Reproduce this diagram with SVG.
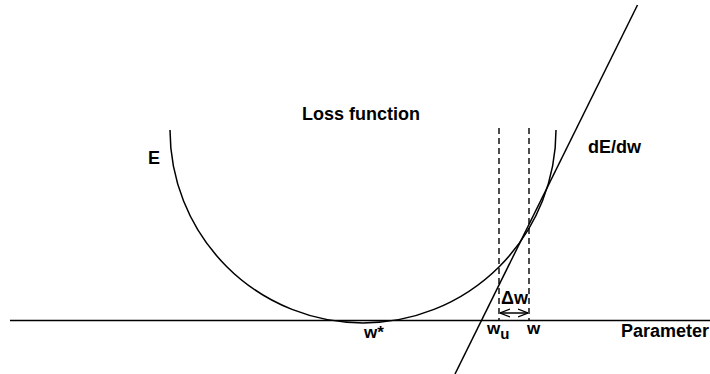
<svg xmlns="http://www.w3.org/2000/svg" width="710" height="374" viewBox="0 0 710 374">
<defs>
<style>
.t{font-family:"Liberation Sans",Arial,sans-serif;font-weight:bold;font-size:18px;fill:#000}
.s{font-size:17px}
.l{stroke:#000;stroke-width:1.5;fill:none}
.d{stroke:#000;stroke-width:1.4;fill:none;stroke-dasharray:6,4}
</style>
<marker id="ah" viewBox="0 0 10 10" refX="10" refY="5" markerWidth="10" markerHeight="10" markerUnits="userSpaceOnUse" orient="auto-start-reverse">
<path d="M0,1 L10,5 L0,9" fill="none" stroke="#000" stroke-width="1.3"/>
</marker>
</defs>
<rect width="710" height="374" fill="#fff"/>
<g id="axis"><line class="l" x1="10" y1="320.5" x2="710" y2="320.5"/></g>
<g id="loss-curve"><path class="l" d="M170,130 A193,193 0 0 0 556,130"/></g>
<g id="tangent"><line class="l" x1="637.5" y1="5" x2="455" y2="374"/></g>
<g id="connectors">
<line class="d" x1="499" y1="128" x2="499" y2="320"/>
<line class="d" x1="529" y1="128" x2="529" y2="320"/>
<line class="l" x1="500" y1="313" x2="528" y2="313" marker-start="url(#ah)" marker-end="url(#ah)"/>
</g>
<g id="labels">
<text class="t" x="302" y="120">Loss function</text>
<text class="t" x="148" y="164">E</text>
<text class="t" x="588" y="153">dE/dw</text>
<text class="t" x="501" y="304">Δw</text>
<text class="t s" x="364" y="338">w*</text>
<text class="t s" x="487" y="334">w<tspan dy="5" font-size="15">u</tspan></text>
<text class="t s" x="527" y="334">w</text>
<text class="t" x="621" y="337">Parameter</text>
</g>
</svg>
